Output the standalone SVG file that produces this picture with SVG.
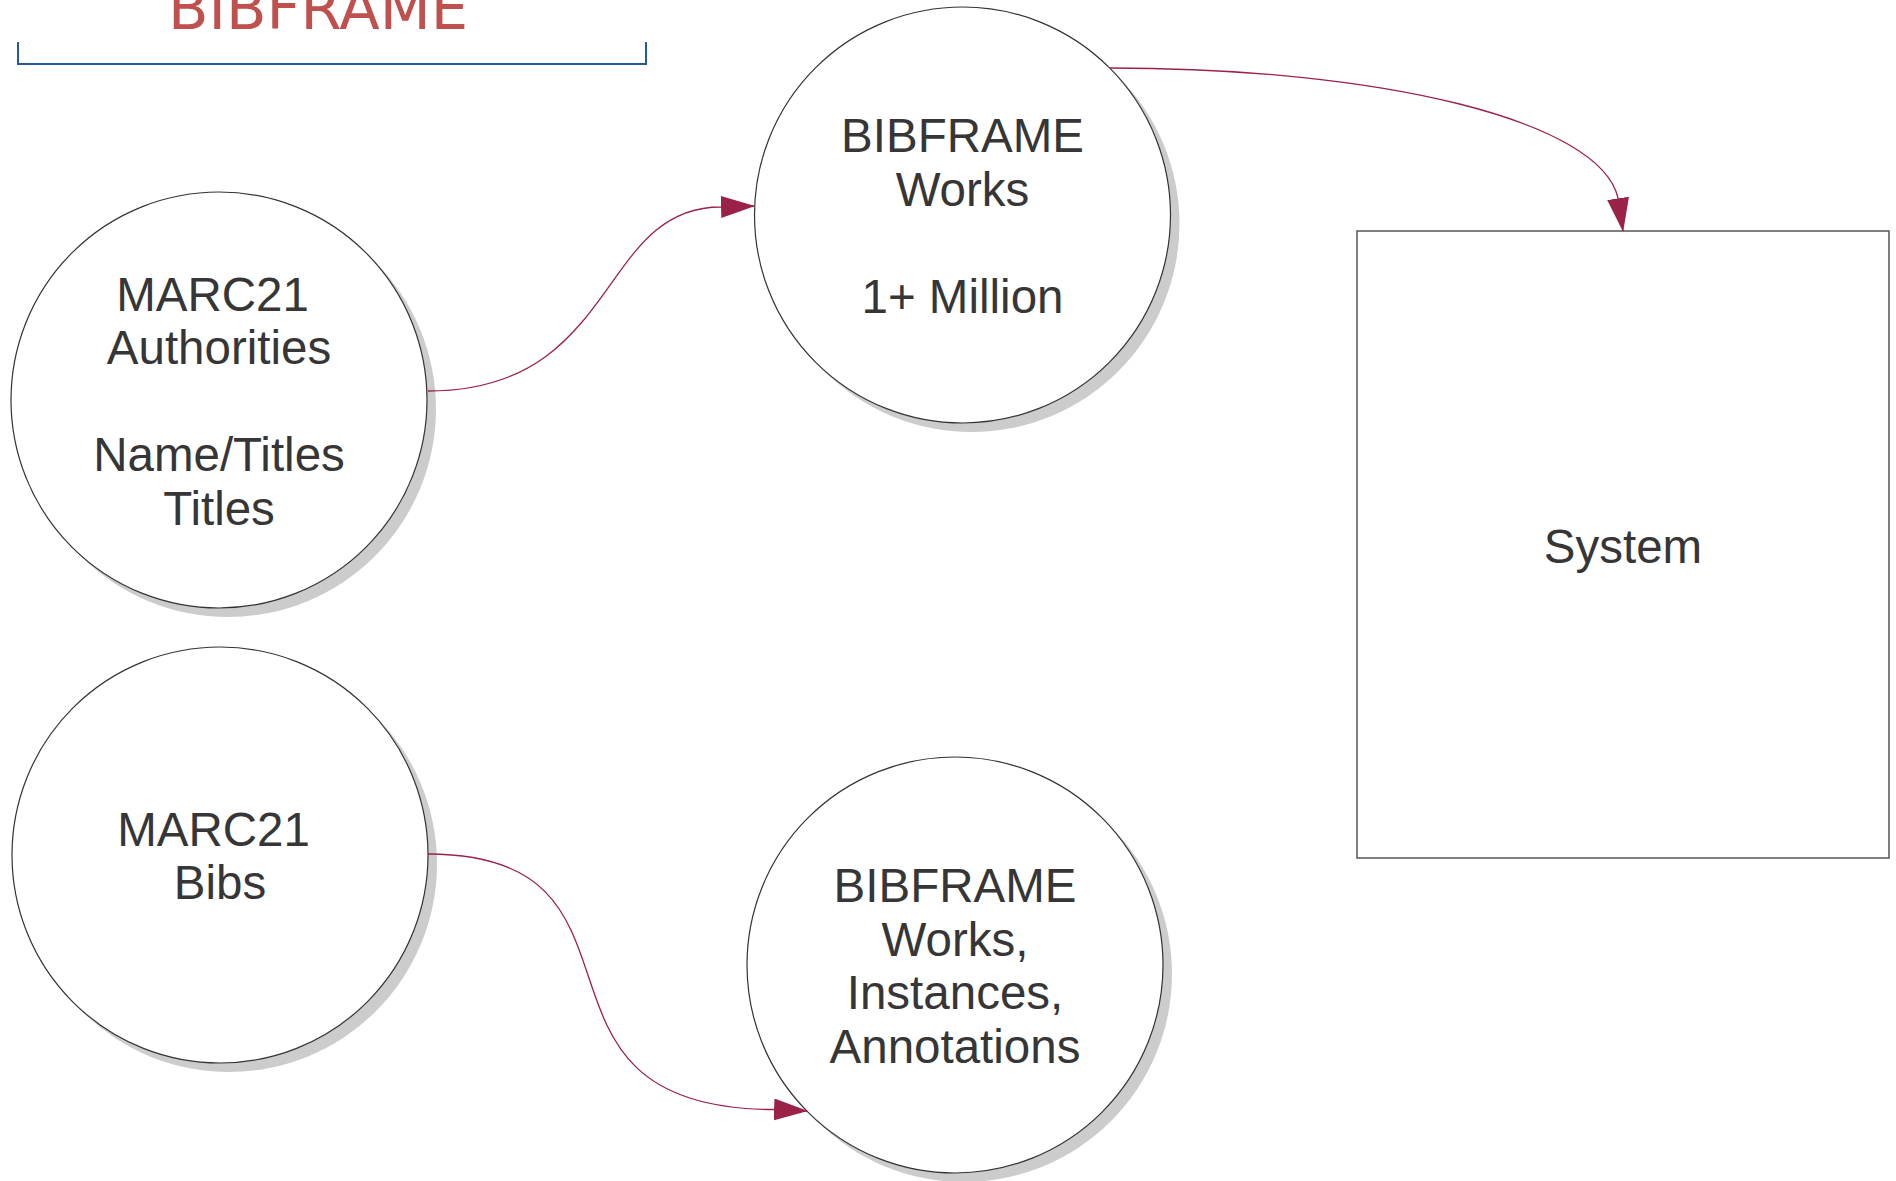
<svg xmlns="http://www.w3.org/2000/svg" width="1896" height="1181" viewBox="0 0 1896 1181">
<style>
.bg{fill:#ffffff}
.shadow{fill:#cccccc;stroke:none}
.node{fill:#ffffff;stroke:#333333;stroke-width:1.2}
.box{fill:#ffffff;stroke:#555555;stroke-width:1.5}
.lbl{font-family:"Liberation Sans",Arial,sans-serif;font-size:47.5px;fill:#363636;text-anchor:middle}
.title{font-family:"DejaVu Sans",Verdana,sans-serif;font-size:58px;fill:#c0504d;text-anchor:middle}
.bracket{fill:none;stroke:#255a9b;stroke-width:2}
.conn{fill:none;stroke:#9b2247;stroke-width:1.3}
</style>
<defs>
<marker id="arr" markerUnits="userSpaceOnUse" viewBox="0 0 34 22" markerWidth="34" markerHeight="22" refX="33" refY="11" orient="auto">
<path d="M0,0 L34,11 L0,22 z" fill="#9b2247"/>
</marker>
</defs>
<rect class="bg" x="0" y="0" width="1896" height="1181"/>
<g id="title">
<text class="title" x="318" y="29" textLength="300" lengthAdjust="spacingAndGlyphs">BIBFRAME</text>
<path class="bracket" d="M18,42 L18,64 L646,64 L646,42"/>
</g>
<g id="marc21-authorities">
<circle class="shadow" cx="228" cy="409" r="208"/>
<circle class="node" cx="219" cy="400" r="208"/>
<text class="lbl" x="212.5" y="310.5">MARC21</text>
<text class="lbl" x="219" y="364">Authorities</text>
<text class="lbl" x="219" y="471">Name/Titles</text>
<text class="lbl" x="219" y="524.5">Titles</text>
</g>
<g id="bibframe-works">
<circle class="shadow" cx="971.5" cy="224" r="208"/>
<circle class="node" cx="962.5" cy="215" r="208"/>
<text class="lbl" x="962.5" y="152">BIBFRAME</text>
<text class="lbl" x="962.5" y="205.5">Works</text>
<text class="lbl" x="962.5" y="312.5">1+ Million</text>
</g>
<g id="marc21-bibs">
<circle class="shadow" cx="229" cy="864" r="208"/>
<circle class="node" cx="220" cy="855" r="208"/>
<text class="lbl" x="213.5" y="845.5">MARC21</text>
<text class="lbl" x="220" y="899">Bibs</text>
</g>
<g id="bibframe-wia">
<circle class="shadow" cx="964" cy="974" r="208"/>
<circle class="node" cx="955" cy="965" r="208"/>
<text class="lbl" x="955" y="902">BIBFRAME</text>
<text class="lbl" x="955" y="955.5">Works,</text>
<text class="lbl" x="955" y="1009">Instances,</text>
<text class="lbl" x="955" y="1062.5">Annotations</text>
</g>
<g id="system">
<rect class="box" x="1357" y="231" width="532" height="627"/>
<text class="lbl" x="1623" y="563">System</text>
</g>
<g id="connectors">
<path class="conn" marker-end="url(#arr)" d="M428,391 C620,391 597,207 721,207 L754,206"/>
<path class="conn" marker-end="url(#arr)" d="M1110,68 C1380,68 1600,120 1618,198 L1623,231"/>
<path class="conn" marker-end="url(#arr)" d="M428,854 C674,854 499,1109 774,1109.5 L807,1111"/>
</g>
</svg>
